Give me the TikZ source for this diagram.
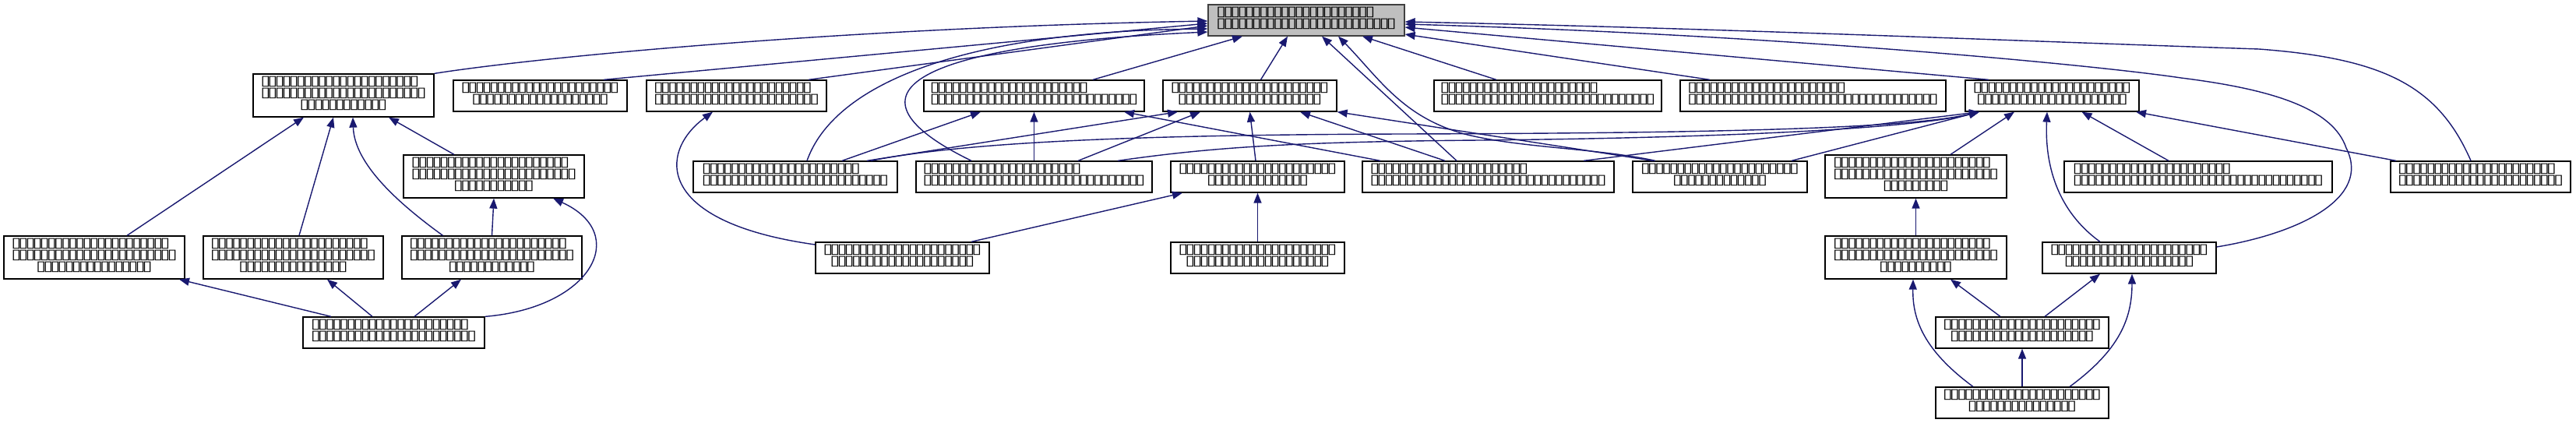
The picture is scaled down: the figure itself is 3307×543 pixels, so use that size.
\documentclass[tikz,border=0pt]{standalone}
\usepackage{fontspec}
\usepackage{graphicx}
\usepackage{tikz}
\usetikzlibrary{arrows.meta, calc}
\newfontfamily\tofufont{DejaVu Sans}
\definecolor{midnight}{HTML}{191970}
\newcommand{\tofu}{\makebox[9.1pt]{\scalebox{1.3}[1]{▯}}}
\newcommand{\tf}[1]{\foreach \tfi in {1,...,#1}{\tofu}}
\newcommand{\tpad}{\hphantom{\tofu}}
\tikzset{
  box/.style={draw=black, fill=white, line width=1.3pt, inner sep=0pt, align=center,
    font=\tofufont\fontsize{17.7}{15}\selectfont,
    execute at end node={\rule[-7pt]{0pt}{7pt}}},
  two/.style={minimum height=40pt},
  three/.style={minimum height=55pt},
  wd/.style={minimum width=#1},
  edge/.style={draw=midnight, line width=1.4pt, -{Triangle[length=13pt, width=10pt]}}
}

\begin{document}
\begin{tikzpicture}[x=1pt, y=-1pt]
        \useasboundingbox (0,0) rectangle (3307,543);
        % Nodes
        \node[box, two, wd=252pt, fill=black!25, draw=black!75, align=left] (root) at (1677,26) {\tf{22}\\\tf{25}};
        \node[box, three, wd=232pt] (a) at (441,122.5) {\tf{22}\tpad\\\tf{23}\\\tf{12}};
        \node[box, two, wd=223pt] (b) at (693.5,123) {\tf{22}\\\tf{19}};
        \node[box, two, wd=231pt, align=left] (c) at (945.5,123) {\tf{22}\\\tf{23}};
        \node[box, two, wd=283pt, align=left] (d) at (1327.5,123) {\tf{22}\\\tf{29}};
        \node[box, two, wd=223pt] (e) at (1604.5,123) {\tf{22}\\\tf{20}};
        \node[box, two, wd=292pt, align=left] (f) at (1987,123) {\tf{22}\\\tf{30}};
        \node[box, two, wd=341pt, align=left] (g) at (2327.5,123) {\tf{22}\\\tf{35}};
        \node[box, two, wd=223pt] (h) at (2634.5,123) {\tf{22}\\\tf{21}};
        \node[box, three, wd=232pt] (i) at (634,226.5) {\tf{22}\tpad\\\tf{23}\\\tf{11}};
        \node[box, two, wd=262pt, align=left] (j) at (1021,227) {\tf{22}\\\tf{26}};
        \node[box, two, wd=303pt, align=left] (k) at (1327.5,227) {\tf{22}\\\tf{31}};
        \node[box, two, wd=223pt] (l) at (1614.5,227) {\tf{22}\\\tf{14}};
        \node[box, two, wd=323pt, align=left] (m) at (1910.5,227) {\tf{22}\\\tf{33}};
        \node[box, two, wd=224pt] (n) at (2208,227) {\tf{22}\\\tf{13}};
        \node[box, three, wd=233pt] (o) at (2459.5,226.5) {\tf{22}\tpad\\\tf{23}\\\tf{9}};
        \node[box, two, wd=344pt, align=left] (p) at (2822,227) {\tf{22}\\\tf{35}};
        \node[box, two, wd=231pt, align=left] (q) at (3184.5,227) {\tf{22}\\\tf{23}};
        \node[box, three, wd=232pt] (r) at (121,330.5) {\tf{22}\tpad\\\tf{23}\\\tf{16}};
        \node[box, three, wd=231pt] (s) at (376.5,330.5) {\tf{22}\tpad\\\tf{23}\\\tf{15}};
        \node[box, three, wd=231pt] (t) at (631.5,330.5) {\tf{22}\tpad\\\tf{23}\\\tf{12}};
        \node[box, two, wd=223pt] (u) at (1158.5,331) {\tf{22}\\\tf{20}};
        \node[box, two, wd=223pt] (v) at (1614.5,331) {\tf{22}\\\tf{20}};
        \node[box, three, wd=233pt] (w) at (2459.5,330.5) {\tf{22}\tpad\\\tf{23}\\\tf{10}};
        \node[box, two, wd=223pt] (x) at (2733.5,331) {\tf{22}\\\tf{18}};
        \node[box, two, wd=233pt, align=left] (y) at (505.5,427) {\tf{22}\\\tf{23}};
        \node[box, two, wd=222pt] (z) at (2596,427) {\tf{22}\\\tf{20}};
        \node[box, two, wd=222pt] (aa) at (2596,517) {\tf{22}\\\tf{15}};

        % Edges into the root
        \draw[edge] (a.north east) .. controls (700,72) and (1100,35) .. ($(root.west)+(0,1)$);
        \draw[edge] ($(b.north)+(81.5,0)$) -- ($(root.west)+(0,4)$);
        \draw[edge] ($(c.north)+(92.5,0)$) -- ($(root.west)+(0,7)$);
        \draw[edge] ($(j.north)+(15,0)$) .. controls (1070,110) and (1230,40) .. ($(root.west)+(0,11)$);
        \draw[edge] ($(k.north)+(-80.5,0)$) .. controls (1090,130) and (1130,60) .. ($(root.west)+(0,15)$);
        \draw[edge] ($(d.north)+(75.5,0)$) -- ($(root.south)+(-82,0)$);
        \draw[edge] ($(e.north)+(14,0)$) -- ($(root.south)+(-24,0)$);
        \draw[edge] ($(m.north)+(-40.5,0)$) -- ($(root.south)+(20,0)$);
        \draw[edge] ($(n.north)+(-83,0)$) .. controls (2050,190) and (1950,190) .. (1880,172)
            .. controls (1800,150) and (1770,100) .. ($(root.south)+(41,0)$);
        \draw[edge] ($(f.north)+(-66,0)$) -- ($(root.south)+(72,0)$);
        \draw[edge] ($(g.north)+(-132.5,0)$) -- ($(root.east)+(0,18)$);
        \draw[edge] ($(h.north)+(-81.5,0)$) -- ($(root.east)+(0,9)$);
        \draw[edge] ($(q.north)+(-12.5,0)$) .. controls (3130,110) and (3060,75) .. (2900,63)
            .. controls (2600,53) and (2200,36) .. ($(root.east)+(0,2)$);
        \draw[edge] ($(x.east)+(0,-14)$) .. controls (2950,300) and (3045,255) .. (3012,190)
            .. controls (2995,140) and (2920,115) .. (2800,100)
            .. controls (2700,85) and (2300,45) .. ($(root.east)+(0,5)$);

        % Left group
        \draw[edge] ($(r.north)+(42,0)$) -- ($(a.south)+(-51,0)$);
        \draw[edge] ($(s.north)+(7.5,0)$) -- ($(a.south)+(-13,0)$);
        \draw[edge] ($(t.north)+(-63,0)$) .. controls (510,260) and (455,210) .. ($(a.south)+(12,0)$);
        \draw[edge] ($(i.north)+(-51,0)$) -- ($(a.south)+(58,0)$);
        \draw[edge] (t.north) -- (i.south);
        \draw[edge] (y.north east) .. controls (760,395) and (810,300) .. ($(i.south)+(76,0)$);
        \draw[edge] ($(y.north)+(-80.5,0)$) -- ($(r.south)+(109,0)$);
        \draw[edge] ($(y.north)+(-27.5,0)$) -- ($(s.south)+(43.5,0)$);
        \draw[edge] ($(y.north)+(26.5,0)$) -- ($(t.south)+(-39.5,0)$);

        % Middle group
        \draw[edge] ($(u.west)+(0,-17)$) .. controls (840,285) and (845,195) .. ($(c.south)+(-30.5,0)$);
        \draw[edge] ($(j.north)+(60,0)$) -- ($(d.south)+(-68.5,0)$);
        \draw[edge] (k.north) -- (d.south);
        \draw[edge] ($(m.north)+(-138.5,0)$) -- ($(d.south)+(115.5,0)$);
        \draw[edge] ($(j.north)+(92,0)$) -- ($(e.south)+(-92.5,0)$);
        \draw[edge] ($(k.north)+(56.5,0)$) -- ($(e.south)+(-63.5,0)$);
        \draw[edge] ($(l.north)+(-2.5,0)$) -- (e.south);
        \draw[edge] ($(m.north)+(-55.5,0)$) -- ($(e.south)+(64.5,0)$);
        \draw[edge] ($(n.north)+(-86,0)$) -- (e.south east);
        \draw[edge] ($(u.north)+(88.5,0)$) -- ($(l.south)+(-96.5,0)$);
        \draw[edge] (v.north) -- (l.south);

        % Right group
        \draw[edge] ($(j.north)+(97,0)$) .. controls (1250,180) and (1500,173) .. (1800,172)
            .. controls (2200,171) and (2450,165) .. ($(h.south)+(-93.5,0)$);
        \draw[edge] ($(k.north)+(107.5,0)$) .. controls (1550,190) and (1650,182) .. (1900,180)
            .. controls (2200,177) and (2450,166) .. ($(h.south)+(-93.5,0)$);
        \draw[edge] ($(m.north)+(122.5,0)$) -- ($(h.south)+(-93.5,0)$);
        \draw[edge] ($(n.north)+(92,0)$) -- ($(h.south)+(-93.5,0)$);
        \draw[edge] ($(o.north)+(44.5,0)$) -- ($(h.south)+(-48.5,0)$);
        \draw[edge] ($(x.north)+(-37.5,0)$) .. controls (2640,270) and (2625,210) .. ($(h.south)+(-6.5,0)$);
        \draw[edge] ($(p.north)+(-38,0)$) -- ($(h.south)+(38,0)$);
        \draw[edge] ($(q.north)+(-108.5,0)$) -- ($(h.south)+(107.5,0)$);
        \draw[edge] (w.north) -- (o.south);
        \draw[edge] ($(z.north)+(-28,0)$) -- ($(w.south)+(44.5,0)$);
        \draw[edge] ($(aa.north)+(-63,0)$) .. controls (2470,450) and (2455,410) .. ($(w.south)+(-3.5,0)$);
        \draw[edge] ($(z.north)+(29,0)$) -- ($(x.south)+(-37.5,0)$);
        \draw[edge] ($(aa.north)+(61,0)$) .. controls (2720,450) and (2737,410) .. ($(x.south)+(3.5,0)$);
        \draw[edge] (aa.north) -- (z.south);
\end{tikzpicture}
\end{document}
